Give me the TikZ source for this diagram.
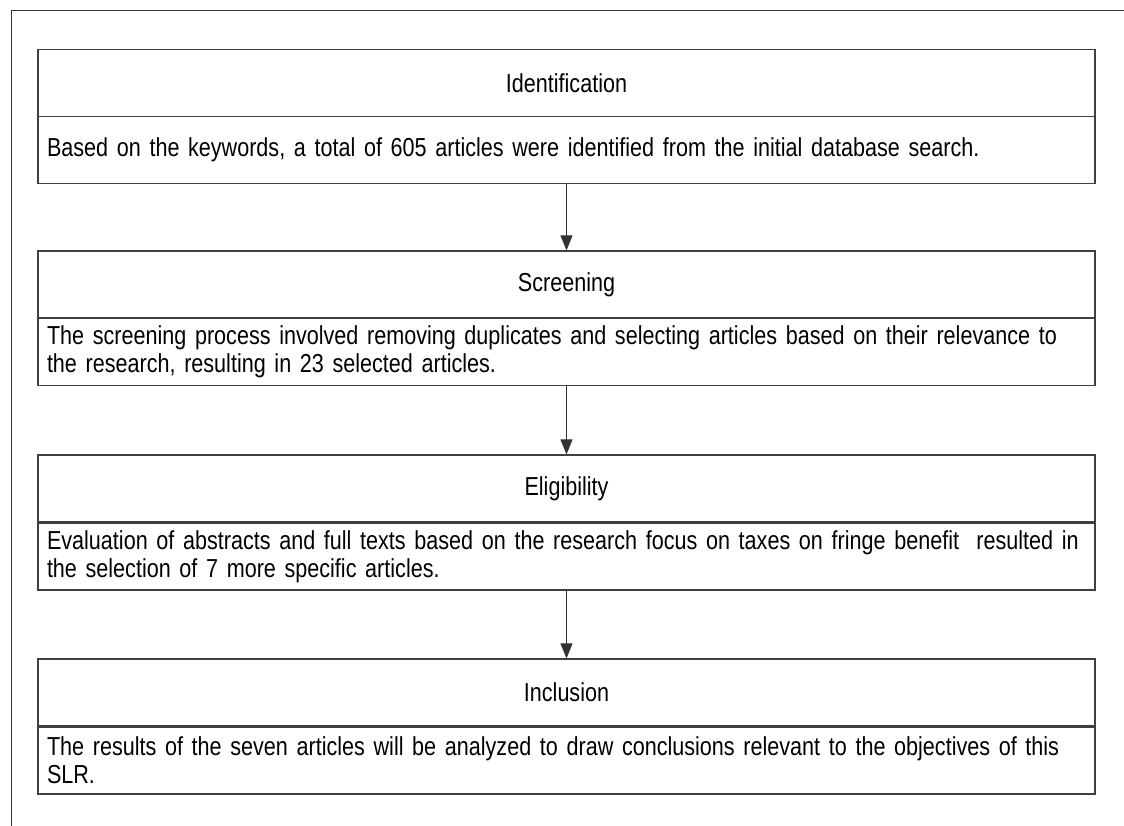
\documentclass[tikz,border=0pt]{standalone}
\usepackage{fontspec}
\setmainfont{Liberation Sans}[FakeStretch=0.83,WordSpace=0.85]
\usetikzlibrary{arrows.meta}

\tikzset{
  stage/.style={draw=black!75, line width=1.2pt, minimum width=1057pt,
    minimum height=67pt, inner sep=0pt, font=\fontsize{26}{28}\selectfont},
  stagetext/.style={stage, text width=1039pt, align=left, inner xsep=9pt},
  flow/.style={-{Triangle[length=15pt,width=12pt]}, line width=1pt, black!80}
}

\begin{document}
\begin{tikzpicture}[x=1pt,y=-1pt]
	\useasboundingbox (0,0) rectangle (1124,826);
	% outer frame
	\draw[line width=1pt, black!80] (11,826) -- (11,11) -- (1124,11);

	\node[stage] (ident) at (566.5,83) {Identification};
	\node[stagetext] (identtext) at (566.5,150)
		{Based on the keywords, a total of 605 articles were identified from the initial database search.};

	\node[stage] (screen) at (566.5,284.5) {Screening};
	\node[stagetext] (screentext) at (566.5,352)
		{The screening process involved removing duplicates and selecting articles based on their relevance to\\
		the research, resulting in 23 selected articles.};

	\node[stage] (elig) at (566.5,488.5) {Eligibility};
	\node[stagetext] (eligtext) at (566.5,556.5)
		{Evaluation of abstracts and full texts based on the research focus on taxes on fringe benefit~ resulted in\\
		the selection of 7 more specific articles.};

	\node[stage] (incl) at (566.5,692.5) {Inclusion};
	\node[stagetext] (incltext) at (566.5,760.5)
		{The results of the seven articles will be analyzed to draw conclusions relevant to the objectives of this\\
		SLR.};

	\draw[flow] (identtext.south) -- (screen.north);
	\draw[flow] (screentext.south) -- (elig.north);
	\draw[flow] (eligtext.south) -- (incl.north);
\end{tikzpicture}
\end{document}
